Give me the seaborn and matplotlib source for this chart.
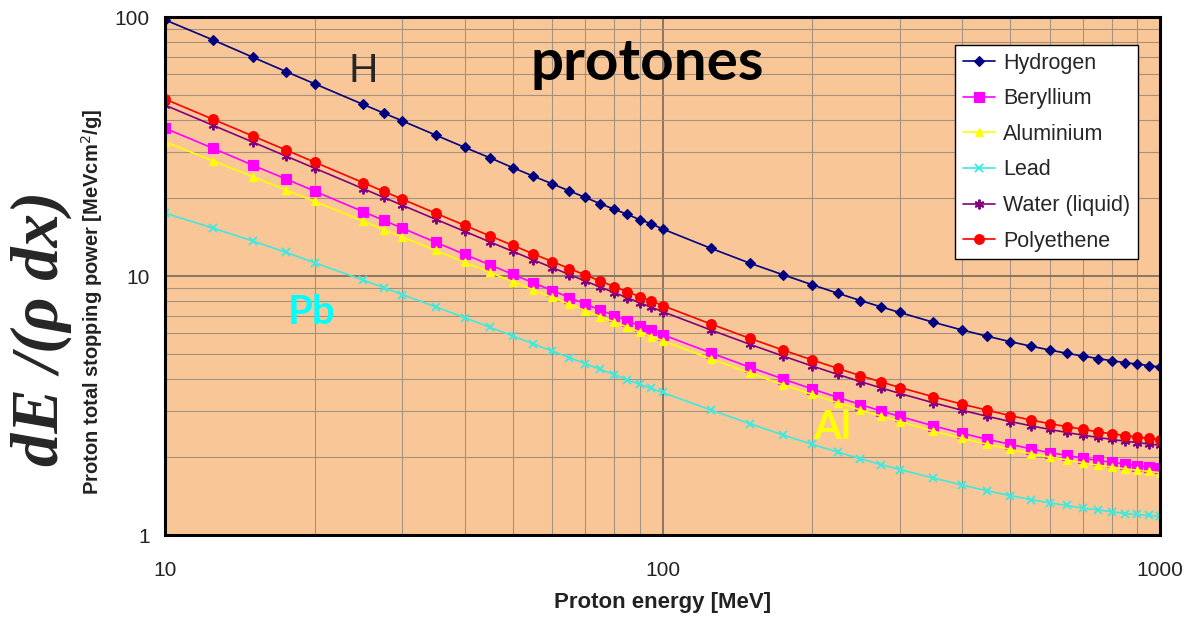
import numpy as np
import pandas as pd
import matplotlib
matplotlib.use("Agg")
import matplotlib.pyplot as plt
import seaborn as sns
from matplotlib.ticker import LogLocator, NullFormatter, FuncFormatter

# proton energy [MeV]
energy = [10, 12.5, 15, 17.5, 20, 25, 27.5, 30, 35, 40, 45, 50, 55, 60, 65, 70, 75, 80, 85, 90, 95, 100,
          125, 150, 175, 200, 225, 250, 275, 300, 350, 400, 450, 500, 550, 600, 650, 700, 750, 800,
          850, 900, 950, 1000]

# total stopping power [MeV cm2/g]
hydrogen = [97.5, 81.5, 70.0, 61.6, 55.2, 46.0, 42.6, 39.7, 35.0, 31.4, 28.6, 26.2, 24.3, 22.7, 21.3,
            20.1, 19.0, 18.1, 17.3, 16.5, 15.9, 15.2, 12.8, 11.2, 10.1, 9.25, 8.58, 8.04, 7.60, 7.23,
            6.63, 6.19, 5.85, 5.58, 5.36, 5.18, 5.03, 4.91, 4.80, 4.71, 4.63, 4.57, 4.51, 4.45]
beryllium = [37.2, 31.1, 26.8, 23.7, 21.25, 17.73, 16.41, 15.29, 13.50, 12.13, 11.04, 10.15, 9.41, 8.79,
             8.26, 7.79, 7.39, 7.03, 6.71, 6.43, 6.17, 5.94, 5.05, 4.44, 4.00, 3.66, 3.40, 3.19, 3.01,
             2.87, 2.64, 2.47, 2.34, 2.24, 2.15, 2.08, 2.03, 1.98, 1.94, 1.91, 1.88, 1.85, 1.83, 1.81]
aluminium = [33.0, 27.8, 24.2, 21.5, 19.4, 16.3, 15.1, 14.15, 12.55, 11.32, 10.33, 9.52, 8.84, 8.27,
             7.78, 7.35, 6.97, 6.64, 6.35, 6.08, 5.84, 5.63, 4.79, 4.22, 3.80, 3.49, 3.24, 3.04, 2.88,
             2.74, 2.52, 2.36, 2.24, 2.14, 2.06, 2.00, 1.95, 1.90, 1.86, 1.83, 1.80, 1.78, 1.76, 1.74]
lead = [17.5, 15.3, 13.65, 12.35, 11.25, 9.65, 9.02, 8.48, 7.60, 6.91, 6.34, 5.87, 5.47, 5.13, 4.84,
        4.58, 4.36, 4.16, 3.98, 3.82, 3.68, 3.55, 3.04, 2.69, 2.43, 2.24, 2.09, 1.97, 1.87, 1.79,
        1.66, 1.56, 1.48, 1.42, 1.37, 1.33, 1.30, 1.27, 1.25, 1.23, 1.21, 1.20, 1.19, 1.18]
water = [45.67, 38.15, 32.92, 29.05, 26.07, 21.75, 20.13, 18.76, 16.56, 14.88, 13.54, 12.45, 11.54,
         10.78, 10.13, 9.559, 9.063, 8.625, 8.236, 7.888, 7.573, 7.289, 6.192, 5.445, 4.903, 4.492,
         4.169, 3.911, 3.698, 3.520, 3.241, 3.032, 2.871, 2.743, 2.641, 2.557, 2.488, 2.430, 2.381,
         2.339, 2.303, 2.273, 2.246, 2.221]
polyethene = [48.2, 40.25, 34.73, 30.65, 27.50, 22.94, 21.23, 19.79, 17.47, 15.70, 14.28, 13.13, 12.17,
              11.37, 10.68, 10.08, 9.56, 9.10, 8.69, 8.32, 7.99, 7.69, 6.53, 5.74, 5.17, 4.74, 4.40,
              4.12, 3.90, 3.71, 3.42, 3.20, 3.03, 2.89, 2.78, 2.69, 2.62, 2.56, 2.50, 2.46, 2.42,
              2.39, 2.36, 2.33]

materials = ["Hydrogen", "Beryllium", "Aluminium", "Lead", "Water (liquid)", "Polyethene"]
series = [hydrogen, beryllium, aluminium, lead, water, polyethene]

df = pd.DataFrame({"energy": energy})
for name, vals in zip(materials, series):
    df[name] = vals
df = df.melt(id_vars="energy", var_name="material", value_name="sp")

colors = {"Hydrogen": "#000080", "Beryllium": "#FF00FF", "Aluminium": "#FFFF00",
          "Lead": "#40E8E0", "Water (liquid)": "#800080", "Polyethene": "#FF0000"}
# seaborn wants all-filled markers; the line-art ones are swapped in afterwards
seaborn_marks = {"Hydrogen": "D", "Beryllium": "s", "Aluminium": "^",
                 "Lead": "X", "Water (liquid)": "*", "Polyethene": "o"}
marks = {"Hydrogen": "D", "Beryllium": "s", "Aluminium": "^",
         "Lead": "x", "Water (liquid)": (6, 2, 0), "Polyethene": "o"}
msize = {"Hydrogen": 5, "Beryllium": 6.5, "Aluminium": 6, "Lead": 5.5,
         "Water (liquid)": 7, "Polyethene": 7}


def style_line(line, name):
    line.set_marker(marks[name])
    line.set_markeredgecolor(colors[name])
    line.set_markerfacecolor(colors[name])
    line.set_markersize(msize[name])
    if name in ("Lead", "Water (liquid)"):
        line.set_markeredgewidth(1.4)
    else:
        line.set_markeredgewidth(0.8)


sns.set_style("white")
plt.rcParams['font.family'] = ['Liberation Sans', 'DejaVu Sans']

fig = plt.figure(figsize=(11.89, 6.19), dpi=100)
ax = fig.add_axes([0.1388, 0.1357, 0.8368, 0.8368])

sns.lineplot(data=df, x="energy", y="sp", hue="material", style="material",
             hue_order=materials, style_order=materials, palette=colors,
             markers=seaborn_marks, dashes=False, linewidth=1.2, ax=ax)

for line, name in zip(ax.lines, materials):
    style_line(line, name)

ax.set_xscale("log")
ax.set_yscale("log")
ax.set_xlim(10, 1000)
ax.set_ylim(1, 100)
ax.set_facecolor("#F9C797")

ax.xaxis.set_major_locator(LogLocator(base=10))
ax.yaxis.set_major_locator(LogLocator(base=10))
ax.xaxis.set_minor_locator(LogLocator(base=10, subs=np.arange(2, 10)))
ax.yaxis.set_minor_locator(LogLocator(base=10, subs=np.arange(2, 10)))
fmt = FuncFormatter(lambda v, p: "%d" % round(v))
ax.xaxis.set_major_formatter(fmt)
ax.yaxis.set_major_formatter(fmt)
ax.xaxis.set_minor_formatter(NullFormatter())
ax.yaxis.set_minor_formatter(NullFormatter())

ax.grid(which="major", color="#7f7060", lw=1.3)
ax.grid(which="minor", color="#a39180", lw=0.8)
ax.set_axisbelow(True)

ax.tick_params(which="both", length=0)
ax.tick_params(axis="x", pad=19, labelsize=15, labelcolor="#222222")
ax.tick_params(axis="y", pad=11, labelsize=15, labelcolor="#222222")

for sp in ax.spines.values():
    sp.set_visible(True)
    sp.set_color("black")
    sp.set_linewidth(2.2)

ax.set_xlabel("Proton energy [MeV]", fontsize=16, fontweight="bold", color="#222222")
ax.set_ylabel("Proton total stopping power [MeVcm$^2$/g]", fontsize=14.5, fontweight="bold",
              color="#222222")
ax.xaxis.set_label_coords(0.5, -0.11)
ax.yaxis.set_label_coords(-0.06, 0.45)

handles, labels = ax.get_legend_handles_labels()
for h, name in zip(handles, labels):
    style_line(h, name)
leg = ax.legend(handles, labels, loc="upper right", bbox_to_anchor=(0.978, 0.946),
                borderaxespad=0, fontsize=15.5, frameon=True, fancybox=False, framealpha=1,
                edgecolor="black", facecolor="white", labelspacing=0.68,
                handlelength=1.5, handletextpad=0.4, borderpad=0.35)
leg.get_frame().set_linewidth(1.0)

# annotations inside the plot
ax.text(93, 66, "protones", fontsize=42, fontweight="bold", family=["Lato", "DejaVu Sans"],
        ha="center", va="center", color="black")
ax.text(25, 62, "H", fontsize=28, family=["Lato", "DejaVu Sans"], ha="center", va="center")
ax.text(19.7, 7.2, "Pb", fontsize=29, fontweight="bold", family=["Lato", "DejaVu Sans"],
        ha="center", va="center", color="#00FFFF")
ax.text(219, 2.59, "Al", fontsize=29, fontweight="bold", family=["Lato", "DejaVu Sans"],
        ha="center", va="center", color="#FFFF00")

fig.text(0.035, 0.47, "dE /(\u03c1 dx)", rotation=90, fontsize=48, fontweight="bold",
         fontstyle="italic", family=["Liberation Serif", "DejaVu Serif"], ha="center", va="center")

fig.savefig("out.png", dpi=100, facecolor="white")
